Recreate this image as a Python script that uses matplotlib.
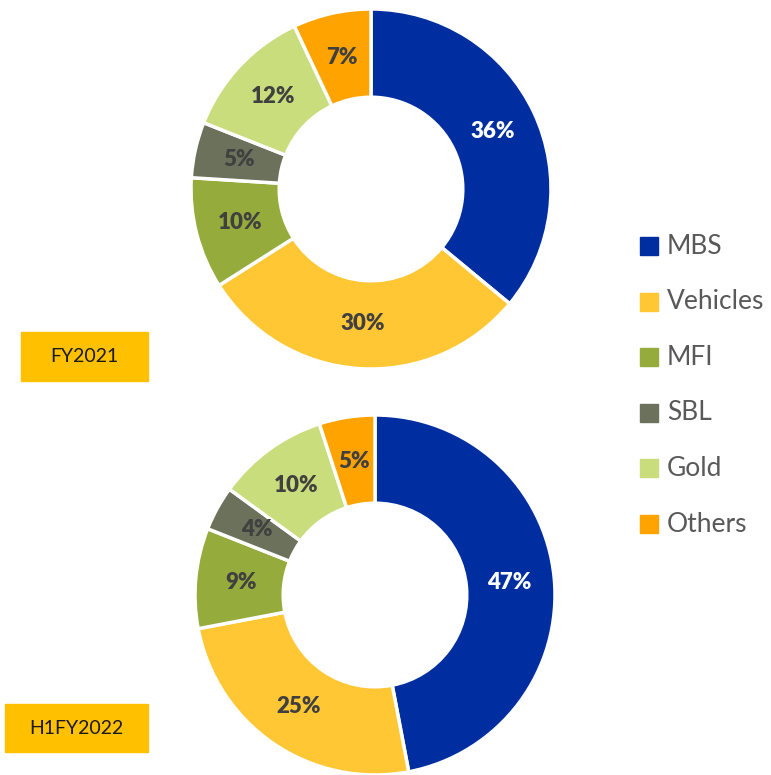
import matplotlib
matplotlib.use("Agg")
import matplotlib.pyplot as plt
from matplotlib.patches import Rectangle

# =========================
# Data
# =========================

CATEGORIES = ["MBS", "Vehicles", "MFI", "SBL", "Gold", "Others"]
FY2021 = [36, 30, 10, 5, 12, 7]
H1FY2022 = [47, 25, 9, 4, 10, 5]
PERIODS = ["FY2021", "H1FY2022"]

COLORS = ["#002DA0", "#FFC733", "#95AB3C", "#6B715B", "#C9DD7C", "#FFA300"]
LABEL_COLORS = ["white", "#404040", "#404040", "#404040", "#404040", "#404040"]

W, H = 771, 775
plt.rcParams["font.family"] = ["Lato", "DejaVu Sans"]

fig = plt.figure(figsize=(W / 100, H / 100), dpi=100)


def px_axes(cx, cy, r):
    # axes box in pixel coords (top-left origin) around donut center
    return fig.add_axes([(cx - r) / W, (H - cy - r) / H, 2 * r / W, 2 * r / H])


def donut(ax, values):
    wedges, texts = ax.pie(
        values,
        colors=COLORS,
        startangle=90,
        counterclock=False,
        radius=1.0,
        labels=[f"{v}%" for v in values],
        labeldistance=0.75,
        wedgeprops=dict(width=0.49, edgecolor="white", linewidth=2.5),
        textprops=dict(fontsize=16, fontweight="heavy"),
    )
    for t, c in zip(texts, LABEL_COLORS):
        t.set_color(c)
        t.set_ha("center")
        t.set_va("center")
    ax.set_xlim(-1, 1)
    ax.set_ylim(-1, 1)


ax1 = px_axes(371, 189, 180)
donut(ax1, FY2021)
ax2 = px_axes(375, 595, 180)
donut(ax2, H1FY2022)

# period tags
tag_boxes = [(21, 332, 127, 49), (5, 704, 143, 48)]
for name, (x, y, w, h) in zip(PERIODS, tag_boxes):
    fig.patches.append(Rectangle((x / W, (H - y - h) / H), w / W, h / H,
                                 transform=fig.transFigure, color="#FFC000", zorder=0))
    fig.text((x + w / 2) / W, (H - y - h / 2) / H, name, ha="center", va="center",
             fontsize=14, color="#1a1a1a")

# legend
for i, (name, col) in enumerate(zip(CATEGORIES, COLORS)):
    yc = 246 + i * 55.6
    fig.patches.append(Rectangle((640 / W, (H - yc - 9) / H), 18 / W, 18 / H,
                                 transform=fig.transFigure, color=col))
    fig.text(667 / W, (H - yc) / H, name, ha="left", va="center",
             fontsize=19, color="#595959")

fig.savefig("out.png", dpi=100)
